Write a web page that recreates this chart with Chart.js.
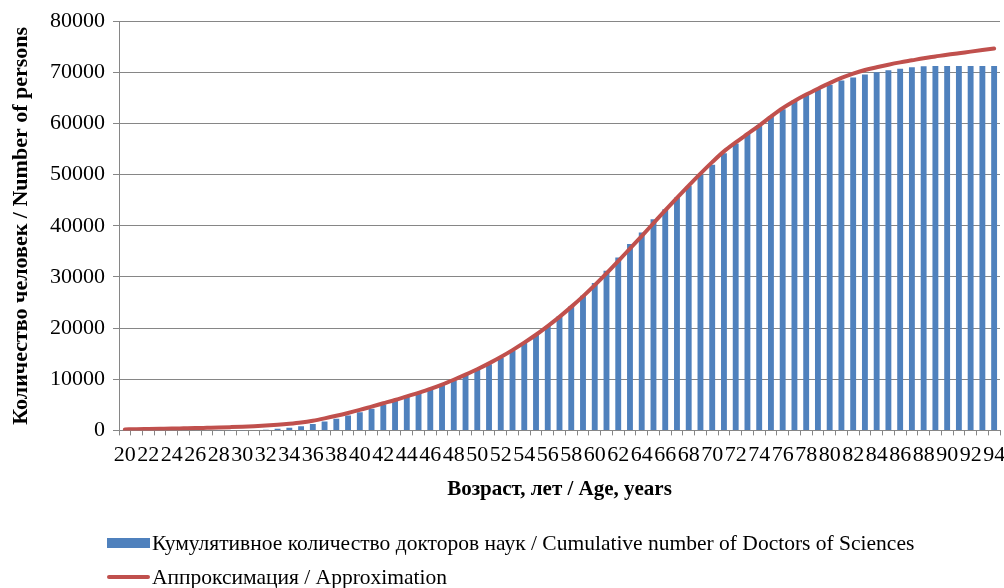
<!DOCTYPE html>
<html>
<head>
<meta charset="utf-8">
<script src="https://cdn.jsdelivr.net/npm/chart.js@4"></script>
<style>
  html, body { margin: 0; padding: 0; background: #ffffff; }
  #wrap { position: relative; width: 1004px; height: 588px; }
  #c { position: absolute; left: 0; top: 0; }
  .leg { position: absolute; left: 107px; font-family: "Liberation Serif", "Times New Roman", serif; font-size: 21.5px; color: #000; white-space: nowrap; line-height: 24px; }
  .leg .sw { display: inline-block; vertical-align: middle; width: 43px; margin-right: 2px; }
  .leg span.t { vertical-align: middle; }
</style>
</head>
<body>
<div id="wrap">
  <canvas id="c" width="1004" height="588"></canvas>
  <div class="leg" id="leg1" style="top:529px;"><span class="sw" style="height:10px;background:#4F81BD;"></span><span class="t">Кумулятивное количество докторов наук / Cumulative number of Doctors of Sciences</span></div>
  <div class="leg" id="leg2" style="top:563px;"><span class="sw" style="height:4px;background:#C0504D;border-radius:2px;"></span><span class="t">Аппроксимация / Approximation</span></div>
</div>
<script>
const ages = [];
for (let a = 20; a <= 94; a++) ages.push(String(a));

const cumulativeDoctors = [
  0, 0, 0, 0, 0, 0, 0, 0, 10, 20, 40, 80,          // 20-31
  150, 300, 520, 800, 1230, 1750, 2300, 2900,      // 32-39
  3550, 4250, 5080, 5850, 6600, 7350, 8130, 8970,  // 40-47
  9800, 10870, 11960, 12940, 14180, 15600, 17110, 18730, // 48-55
  20420, 22300, 24260, 26340, 28800, 31220, 33820, 36420, // 56-63
  38700, 41300, 43250, 45530, 47800, 49950, 51950, 54200, // 64-71
  56100, 58000, 59700, 61270, 62770, 64500, 65600, 66700, // 72-79
  67600, 68430, 69000, 69590, 70000, 70400, 70700, 71000, // 80-87
  71180, 71250, 71250, 71250, 71250, 71250, 71250          // 88-94
];

const approximation = [
  200, 230, 270, 310, 350, 400, 450, 510, 570, 640, 720, 820, // 20-31
  940, 1100, 1300, 1550, 1900, 2350, 2850, 3400,   // 32-39
  4000, 4650, 5300, 5950, 6650, 7350, 8100, 8950,  // 40-47
  9900, 10900, 11950, 13100, 14350, 15700, 17150, 18700, // 48-55
  20400, 22200, 24150, 26200, 28400, 30700, 33100, 35550, // 56-63
  38000, 40500, 43000, 45450, 47850, 50200, 52450, 54550, // 64-71
  56300, 57950, 59600, 61350, 63000, 64400, 65650, 66800, // 72-79
  67900, 68900, 69750, 70450, 71000, 71500, 71950, 72350, // 80-87
  72750, 73100, 73450, 73750, 74050, 74350, 74650          // 88-94
];

const yTicks = [0, 10000, 20000, 30000, 40000, 50000, 60000, 70000, 80000];

const FONT = "'Liberation Serif', 'Times New Roman', serif";
const GRID = '#868686';

new Chart(document.getElementById('c'), {
  type: 'bar',
  data: {
    labels: ages,
    datasets: [
      {
        type: 'bar',
        label: 'Кумулятивное количество докторов наук / Cumulative number of Doctors of Sciences',
        data: cumulativeDoctors,
        backgroundColor: '#4F81BD',
        borderWidth: 0,
        categoryPercentage: 1.0,
        barPercentage: 0.5,
        order: 1
      },
      {
        type: 'line',
        label: 'Аппроксимация / Approximation',
        data: approximation,
        borderColor: '#C0504D',
        backgroundColor: '#C0504D',
        borderWidth: 4,
        pointRadius: 0,
        cubicInterpolationMode: 'monotone',
        borderCapStyle: 'round',
        fill: false,
        order: 0
      }
    ]
  },
  options: {
    responsive: false,
    animation: false,
    devicePixelRatio: 1,
    layout: { padding: { top: 20, right: 4, bottom: 82, left: 4 } },
    plugins: {
      legend: { display: false },
      tooltip: { enabled: false }
    },
    scales: {
      x: {
        afterFit: function (scale) { scale.paddingLeft = 0; scale.paddingRight = 0; },
        grid: { display: true, drawOnChartArea: false, drawTicks: true, tickLength: 5, color: GRID, offset: true },
        border: { display: true, color: GRID, width: 1 },
        ticks: {
          autoSkip: false,
          maxRotation: 0,
          minRotation: 0,
          padding: 7,
          color: '#000',
          font: { family: FONT, size: 22 },
          callback: function (val) {
            const l = this.getLabelForValue(val);
            return Number(l) % 2 === 0 ? l : '';
          }
        },
        title: {
          display: true,
          text: 'Возраст, лет / Age, years',
          color: '#000',
          font: { family: FONT, size: 21, weight: 'bold' },
          padding: { top: 1, bottom: 4 }
        }
      },
      y: {
        min: 0,
        max: 80000,
        afterFit: function (scale) { scale.width = 115; },
        afterBuildTicks: function (scale) { scale.ticks = yTicks.map(v => ({ value: v })); },
        grid: { color: GRID, lineWidth: 1, drawTicks: true, tickLength: 6 },
        border: { display: true, color: GRID, width: 1 },
        ticks: {
          padding: 8,
          color: '#000',
          font: { family: FONT, size: 22 },
          callback: function (v) { return String(v); }
        },
        title: {
          display: true,
          text: 'Количество человек / Number of persons',
          color: '#000',
          font: { family: FONT, size: 22, weight: 'bold' },
          padding: { top: 4, bottom: 4 }
        }
      }
    }
  }
});
</script>
</body>
</html>
